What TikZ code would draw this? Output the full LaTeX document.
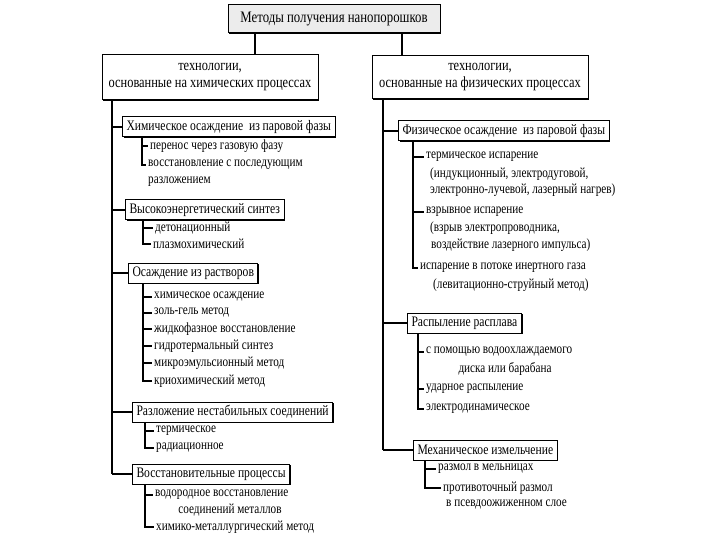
\documentclass[tikz,border=0pt]{standalone}
\usepackage{fontspec}
\setmainfont[FakeStretch=0.8]{Liberation Serif}
\usetikzlibrary{shadows}

\tikzset{
	boxshadow/.style={drop shadow={shadow xshift=1.3pt,shadow yshift=-1.3pt,fill=black,opacity=1}},
	headbox/.style={draw,line width=1pt,fill=white,boxshadow,align=center,inner sep=3pt,font=\fontsize{15.5}{17}\selectfont},
	catbox/.style={draw,line width=1pt,fill=white,boxshadow,anchor=west,inner xsep=4pt,inner ysep=2pt,minimum height=20pt,font=\fontsize{14.5}{16}\selectfont},
	item/.style={anchor=west,inner xsep=2pt,inner ysep=0pt,font=\fontsize{14}{16}\selectfont},
	link/.style={line width=1.1pt}
}

\begin{document}
\begin{tikzpicture}[x=1pt,y=-1pt]
	\useasboundingbox (0,0) rectangle (720,540);

	% Boxes on top


	\node[headbox,fill=gray!15,minimum width=212pt,minimum height=28pt,font=\fontsize{16}{18}\selectfont] (top) at (334,19) {Методы получения нанопорошков};
	\node[headbox,minimum width=216pt,minimum height=45pt] (chem) at (210,77) {технологии,\\основанные на химических процессах};
	\node[headbox,minimum width=216pt,minimum height=43pt] (phys) at (480,77) {технологии,\\основанные на физических процессах};

	\coordinate (topL) at (255,0);
	\coordinate (topR) at (402,0);
	\draw[link] (top.south -| topL) -- (chem.north -| topL);
	\draw[link] (top.south -| topR) -- (phys.north -| topR);

	% Chemical side


	\node[catbox] (c1) at (122,127) {Химическое осаждение~ из паровой фазы};
	\node[catbox] (c2) at (125,210) {Высокоэнергетический синтез};
	\node[catbox] (c3) at (128,273) {Осаждение из растворов};
	\node[catbox] (c4) at (132,412) {Разложение нестабильных соединений};
	\node[catbox] (c5) at (132,474) {Восстановительные процессы};

	\coordinate (trunkL) at (112,0);
	\draw[link] (chem.south -| trunkL) -- (c5.west -| trunkL);
	\foreach \c in {c1,c2,c3,c4,c5}
	\draw[link] (\c.west -| trunkL) -- (\c.west);

	\node[item] (s11) at (148,146) {перенос через газовую фазу};
	\node[item] (s12) at (146,165) {восстановление с последующим};
	\node[item] (s12b) at (146,182) {разложением};

	\node[item] (s21) at (153,228) {детонационный};
	\node[item] (s22) at (151,244) {плазмохимический};

	\node[item] (s31) at (152,297) {химическое осаждение};
	\node[item] (s32) at (152,313) {золь-гель метод};
	\node[item] (s33) at (152,329) {жидкофазное восстановление};
	\node[item] (s34) at (152,346) {гидротермальный синтез};
	\node[item] (s35) at (152,363) {микроэмульсионный метод};
	\node[item] (s36) at (152,381) {криохимический метод};

	\node[item] (s41) at (154,431) {термическое};
	\node[item] (s42) at (154,448) {радиационное};

	\node[item] (s51) at (153,495) {водородное восстановление};
	\node[item,anchor=center] (s51b) at (230,510) {соединений металлов};
	\node[item] (s52) at (154,527) {химико-металлургический метод};

	\coordinate (v1) at (142,0);
	\coordinate (v2) at (143,0);
	\coordinate (v3) at (143,0);
	\coordinate (v4) at (145,0);
	\coordinate (v5) at (145,0);

	\draw[link] (c1.south -| v1) |- (s12.west);
	\draw[link] (s11.west -| v1) -- (s11.west);
	\draw[link] (c2.south -| v2) |- (s22.west);
	\draw[link] (s21.west -| v2) -- (s21.west);
	\draw[link] (c3.south -| v3) |- (s36.west);
	\foreach \s in {s31,s32,s33,s34,s35}
	\draw[link] (\s.west -| v3) -- (\s.west);
	\draw[link] (c4.south -| v4) |- (s42.west);
	\draw[link] (s41.west -| v4) -- (s41.west);
	\draw[link] (c5.south -| v5) |- (s52.west);
	\draw[link] (s51.west -| v5) -- (s51.west);

	% Physical side


	\node[catbox] (p1) at (398,131) {Физическое осаждение~ из паровой фазы};
	\node[catbox] (p2) at (407,323) {Распыление расплава};
	\node[catbox] (p3) at (413,450) {Механическое измельчение};

	\coordinate (trunkR) at (383,0);
	\draw[link] (phys.south -| trunkR) -- (p3.west -| trunkR);
	\foreach \p in {p1,p2,p3}
	\draw[link] (\p.west -| trunkR) -- (\p.west);

	\node[item] (t11) at (424,157) {термическое испарение};
	\node[item] (t11b) at (428,174) {(индукционный, электродуговой,};
	\node[item] (t11c) at (428,190) {электронно-лучевой, лазерный нагрев)};
	\node[item] (t12) at (424,212) {взрывное испарение};
	\node[item] (t12b) at (428,228) {(взрыв электропроводника,};
	\node[item] (t12c) at (429,245) {воздействие лазерного импульса)};
	\node[item] (t13) at (418,268) {испарение в потоке инертного газа};
	\node[item] (t13b) at (431,285) {(левитационно-струйный метод)};

	\node[item] (u1) at (424,352) {с помощью водоохлаждаемого};
	\node[item,anchor=center] (u1b) at (505,369) {диска или барабана};
	\node[item] (u2) at (424,389) {ударное распыление};
	\node[item] (u3) at (424,409) {электродинамическое};

	\node[item] (w1) at (436,469) {размол в мельницах};
	\node[item] (w2) at (441,488) {противоточный размол};
	\node[item] (w2b) at (444,505) {в псевдоожиженном слое};

	\coordinate (q1) at (413,0);
	\coordinate (q2) at (418,0);
	\coordinate (q3) at (425,0);

	\draw[link] (p1.south -| q1) |- (t13.west);
	\foreach \t in {t11,t12}
	\draw[link] (\t.west -| q1) -- (\t.west);
	\draw[link] (p2.south -| q2) |- (u3.west);
	\foreach \u in {u1,u2}
	\draw[link] (\u.west -| q2) -- (\u.west);
	\draw[link] (p3.south -| q3) |- (w2.west);
	\draw[link] (w1.west -| q3) -- (w1.west);

\end{tikzpicture}
\end{document}
